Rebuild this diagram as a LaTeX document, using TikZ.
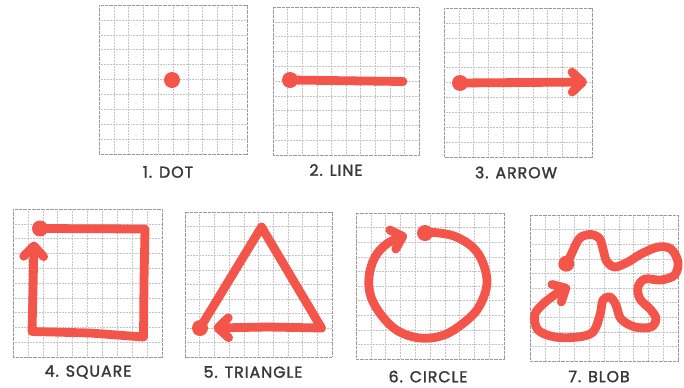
\documentclass[tikz,border=0pt]{standalone}
\usepackage{fontspec}
\newfontfamily\lblfont{Poppins}[LetterSpace=6, FakeBold=1.6]
\usetikzlibrary{arrows.meta}
\definecolor{redc}{HTML}{F4554A}
\definecolor{gridc}{HTML}{C4C4C4}
\definecolor{framec}{HTML}{9A9A9A}
\definecolor{inkc}{HTML}{383838}
\tikzset{
  stroke/.style={draw=redc, line width=7.5pt, line cap=round, line join=round},
  tipped/.style={stroke, -{Straight Barb[length=9pt, width=17pt, round]}},
  spot/.style={fill=redc},
  gridline/.style={draw=gridc, line width=0.5pt, dash pattern=on 0.6pt off 0.7pt},
  frameline/.style={draw=framec, line width=0.7pt, dash pattern=on 0.6pt off 0.5pt},
  caption/.style={text=inkc, font=\lblfont\fontsize{13.5}{13.5}\selectfont, anchor=center}
}
\newcommand{\gridpanel}[4]{%
  \foreach \k in {1,...,9}{%
    \draw[gridline] ({#1+(#3-#1)*\k/10},#2) -- ({#1+(#3-#1)*\k/10},#4);
    \draw[gridline] (#1,{#2+(#4-#2)*\k/10}) -- (#3,{#2+(#4-#2)*\k/10});
  }%
  \draw[frameline] (#1,#2) rectangle (#3,#4);
}
\begin{document}
\begin{tikzpicture}[x=0.03cm, y=-0.03cm]
\useasboundingbox[fill=white] (0,0) rectangle (684,387);
% panels
\gridpanel{99}{5}{247}{154}
\gridpanel{273}{7}{419}{155}
\gridpanel{444}{8}{592}{157}
\gridpanel{13}{209}{162}{357}
\gridpanel{185}{212}{332}{357}
\gridpanel{356}{213}{504}{359}
\gridpanel{530}{215}{678}{361}
% 1 dot
\fill[spot] (172,80) circle[radius=8];
% 2 line
\draw[stroke] (290,80) -- (403,81.5);
\fill[spot] (290,80) circle[radius=8];
% 3 arrow
\draw[tipped] (460,83) -- (587,82);
\fill[spot] (460,83) circle[radius=8];
% 4 square
\draw[tipped] (40,228.5) -- (145,229) -- (144,282) -- (143.5,337) -- (90,333) -- (32,331.5) -- (33,290) -- (34,241.5);
\fill[spot] (40,228.5) circle[radius=8];
% 5 triangle
\draw[tipped] (200,328) -- (261.5,227) -- (321.5,328) -- (268,327) -- (213.5,328);
\fill[spot] (200,328) circle[radius=8];
% 6 circle
\draw[tipped] plot[smooth, tension=0.6] coordinates {(426,232) (454,236) (477,252) (487,280) (480,305) (466,321) (444,335) (420,338) (398,331) (382,316) (371,297) (369,277) (375,257) (388,243) (407,235)};
\fill[spot] (425,233) circle[radius=8];
% 7 blob
\draw[tipped] plot[smooth, tension=0.55] coordinates {(566.3,263.7) (571,255) (576,244) (581,237) (591,234.5) (599.5,238.5) (603,249) (606.5,261) (614.7,267) (628,262) (641,254) (658,247) (671,249) (678,262) (674.7,275) (661,280) (645,279) (638,287) (640,299) (651,310) (656,319) (651,327) (635,327) (621,319) (616,305) (610,297) (603,300) (600,315) (593,332) (578,337) (555,337) (538,330) (534.7,315) (543,304) (556,294) (569.7,286)};
\fill[spot] (566.3,263.7) circle[radius=8];
% captions
\node[caption] (c1) at (168,172) {1. DOT};
\node[caption] (c2) at (336,170) {2. LINE};
\node[caption] (c3) at (516,172.5) {3. ARROW};
\node[caption] (c4) at (88,372) {4. SQUARE};
\node[caption] (c5) at (253,372) {5. TRIANGLE};
\node[caption] (c6) at (428,376.5) {6. CIRCLE};
\node[caption] (c7) at (599,376.5) {7. BLOB};
\end{tikzpicture}
\end{document}
